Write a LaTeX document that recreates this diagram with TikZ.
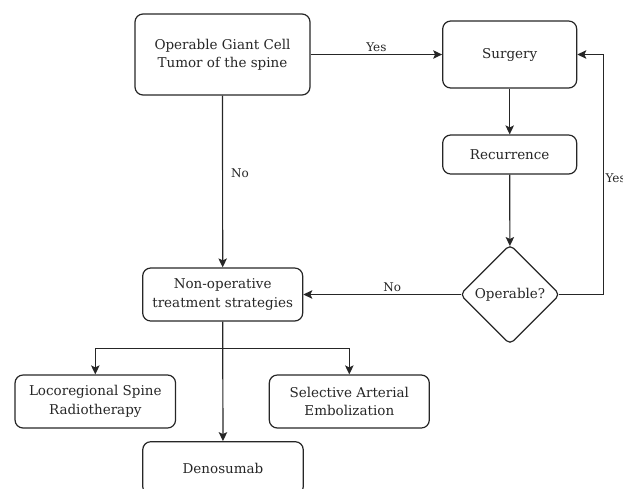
\documentclass[tikz,border=0pt]{standalone}
\usepackage{fontspec}
\setmainfont{DejaVu Serif}
\usepackage{tikz}
\usetikzlibrary{arrows.meta}
\usetikzlibrary{shapes.geometric}
\usetikzlibrary{positioning}

\begin{document}
\begin{tikzpicture}[
        x=1pt, y=-1pt,
        box/.style={rectangle, rounded corners=8pt, draw=black!85, line width=1.2pt, align=center, inner sep=0, text=black!85, font=\fontsize{13.5}{18.3}\selectfont},
        decision/.style={diamond, rounded corners=5pt, draw=black!85, line width=1.2pt, minimum width=100pt, minimum height=100pt, inner sep=0, text=black!85, font=\fontsize{13.5}{18.3}\selectfont},
        lbl/.style={inner sep=2pt, text=black!85, font=\fontsize{12}{14}\selectfont},
        arr/.style={-{Stealth[length=9pt,width=8.5pt,inset=2pt]}, line width=1.2pt, draw=black!85},
        link/.style={line width=1.2pt, draw=black!85}
    ]
        \useasboundingbox (0,0) rectangle (623,488);

        % boxes of the flow
        \node[box, minimum width=175pt, minimum height=81pt] (tumor) at (222.5,54.5) {Operable Giant Cell\\Tumor of the spine};
        \node[box, minimum width=134pt, minimum height=67pt] (surgery) at (509.7,54.5) {Surgery};
        \node[box, minimum width=134pt, minimum height=39pt] (recur) at (509.7,154.5) {Recurrence};
        \node[decision] (op) at (510,294.5) {Operable?};
        \node[box, minimum width=160pt, minimum height=53pt] (nonop) at (222.7,294.5) {Non-operative\\treatment strategies};

        % non-operative options
        \node[box, minimum width=160.5pt, minimum height=53pt] (loco) at (95.3,401.5) {Locoregional Spine\\Radiotherapy};
        \node[box, minimum width=160pt, minimum height=53pt] (emb) at (349.3,401.5) {Selective Arterial\\Embolization};
        \node[box, minimum width=160.5pt, minimum height=53pt] (deno) at (223,468.2) {Denosumab};

        \coordinate (yesturn) at (603.3,294.5);
        \coordinate (split) at (222.7,348.3);

        % main path
        \draw[arr] (tumor) -- node[lbl, above, pos=0.5] (yes1) {Yes} (surgery);
        \draw[arr] (tumor) -- node[lbl, right=6pt, pos=0.45] (no1) {No} (nonop);
        \draw[arr] (surgery) -- (recur);
        \draw[arr, shorten >=-2pt] (recur) -- (op);

        % decision after recurrence
        \draw[arr, shorten <=-2pt] (op.west) -- node[lbl, above, pos=0.43] (no2) {No} (nonop.east);
        \draw[arr, shorten <=-2pt] (op.east) -- (yesturn) |- (surgery.east);
        \node[lbl, anchor=west] (yes2) at (603.3,178.3) {Yes};

        % branches
        \draw[arr] (nonop) -- (deno);
        \foreach \leaf in {loco, emb} {
            \draw[arr] (split) -| (\leaf.north);
        }

    \end{tikzpicture}
\end{document}
